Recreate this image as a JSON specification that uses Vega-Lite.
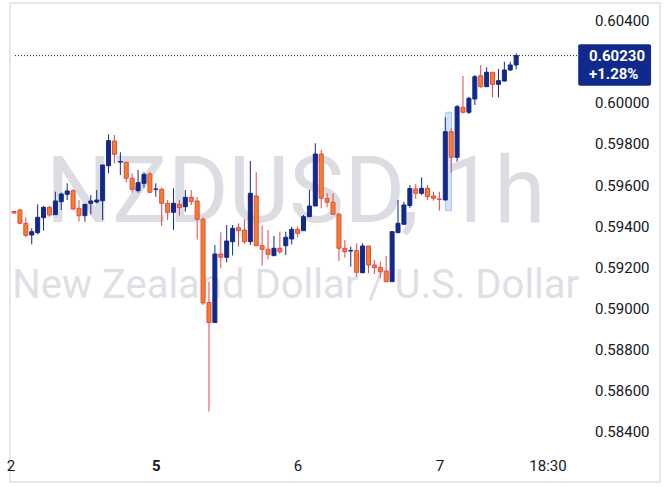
{
  "$schema": "https://vega.github.io/schema/vega-lite/v6.json",
  "width": 650,
  "height": 479,
  "autosize": {"type": "none"},
  "padding": {"left": 10, "top": 3, "right": 10, "bottom": 5},
  "background": "#ffffff",
  "config": {
    "view": {"stroke": "#e8e8ec", "strokeWidth": 2},
    "axis": {"grid": false, "domain": false, "ticks": false, "tickSize": 0, "title": null, "labelFont": "Roboto", "labelFontSize": 15, "labelColor": "#131722"}
  },
  "data": {"values": [
    {"i": -1, "o": 0.594715, "h": 0.594740, "l": 0.594618, "c": 0.594642},
    {"i": 0, "o": 0.594788, "h": 0.594823, "l": 0.594093, "c": 0.594141},
    {"i": 1, "o": 0.594141, "h": 0.594433, "l": 0.593460, "c": 0.593557},
    {"i": 2, "o": 0.593572, "h": 0.593898, "l": 0.593119, "c": 0.593732},
    {"i": 3, "o": 0.593684, "h": 0.595066, "l": 0.593606, "c": 0.594433},
    {"i": 4, "o": 0.594414, "h": 0.594983, "l": 0.593781, "c": 0.594920},
    {"i": 5, "o": 0.594920, "h": 0.594983, "l": 0.594462, "c": 0.594545},
    {"i": 6, "o": 0.594560, "h": 0.595679, "l": 0.594545, "c": 0.595226},
    {"i": 7, "o": 0.595192, "h": 0.595630, "l": 0.594788, "c": 0.595567},
    {"i": 8, "o": 0.595552, "h": 0.596088, "l": 0.595275, "c": 0.595713},
    {"i": 9, "o": 0.595728, "h": 0.595796, "l": 0.594788, "c": 0.594837},
    {"i": 10, "o": 0.594871, "h": 0.595275, "l": 0.594219, "c": 0.594511},
    {"i": 11, "o": 0.594511, "h": 0.595066, "l": 0.594219, "c": 0.595066},
    {"i": 12, "o": 0.595114, "h": 0.595518, "l": 0.594579, "c": 0.595226},
    {"i": 13, "o": 0.595178, "h": 0.595762, "l": 0.595114, "c": 0.595275},
    {"i": 14, "o": 0.595241, "h": 0.596978, "l": 0.594302, "c": 0.596978},
    {"i": 15, "o": 0.596944, "h": 0.598472, "l": 0.596574, "c": 0.598161},
    {"i": 16, "o": 0.598146, "h": 0.598438, "l": 0.597061, "c": 0.597499},
    {"i": 17, "o": 0.597124, "h": 0.597596, "l": 0.596492, "c": 0.597148},
    {"i": 18, "o": 0.597110, "h": 0.597110, "l": 0.596136, "c": 0.596331},
    {"i": 19, "o": 0.596331, "h": 0.596574, "l": 0.595630, "c": 0.595796},
    {"i": 20, "o": 0.595728, "h": 0.596735, "l": 0.595630, "c": 0.596117},
    {"i": 21, "o": 0.596088, "h": 0.596623, "l": 0.595874, "c": 0.596526},
    {"i": 22, "o": 0.596540, "h": 0.596623, "l": 0.595601, "c": 0.595650},
    {"i": 23, "o": 0.595796, "h": 0.596088, "l": 0.595436, "c": 0.595810},
    {"i": 24, "o": 0.595796, "h": 0.595874, "l": 0.594010, "c": 0.595114},
    {"i": 25, "o": 0.595114, "h": 0.595275, "l": 0.594302, "c": 0.594677},
    {"i": 26, "o": 0.594677, "h": 0.595844, "l": 0.593815, "c": 0.595114},
    {"i": 27, "o": 0.595066, "h": 0.595275, "l": 0.594511, "c": 0.594900},
    {"i": 28, "o": 0.594949, "h": 0.595762, "l": 0.594706, "c": 0.595406},
    {"i": 29, "o": 0.595406, "h": 0.595762, "l": 0.595032, "c": 0.595192},
    {"i": 30, "o": 0.595226, "h": 0.595421, "l": 0.593353, "c": 0.594336},
    {"i": 31, "o": 0.594336, "h": 0.594433, "l": 0.590166, "c": 0.590263},
    {"i": 32, "o": 0.590287, "h": 0.591300, "l": 0.584974, "c": 0.589314},
    {"i": 33, "o": 0.589314, "h": 0.593085, "l": 0.589314, "c": 0.592647},
    {"i": 34, "o": 0.592647, "h": 0.593703, "l": 0.591952, "c": 0.592487},
    {"i": 35, "o": 0.592487, "h": 0.594058, "l": 0.592243, "c": 0.593280},
    {"i": 36, "o": 0.593246, "h": 0.594058, "l": 0.592574, "c": 0.593898},
    {"i": 37, "o": 0.593927, "h": 0.594141, "l": 0.593003, "c": 0.593781},
    {"i": 38, "o": 0.593815, "h": 0.594336, "l": 0.593134, "c": 0.593246},
    {"i": 39, "o": 0.593246, "h": 0.597173, "l": 0.593085, "c": 0.595601},
    {"i": 40, "o": 0.595470, "h": 0.596623, "l": 0.593037, "c": 0.593051},
    {"i": 41, "o": 0.593051, "h": 0.594024, "l": 0.592078, "c": 0.592876},
    {"i": 42, "o": 0.592876, "h": 0.593815, "l": 0.592390, "c": 0.592633},
    {"i": 43, "o": 0.592565, "h": 0.593523, "l": 0.592565, "c": 0.592925},
    {"i": 44, "o": 0.592925, "h": 0.593732, "l": 0.592647, "c": 0.592759},
    {"i": 45, "o": 0.593051, "h": 0.593732, "l": 0.592599, "c": 0.593460},
    {"i": 46, "o": 0.593377, "h": 0.593976, "l": 0.593119, "c": 0.593849},
    {"i": 47, "o": 0.593849, "h": 0.593976, "l": 0.593460, "c": 0.593655},
    {"i": 48, "o": 0.593781, "h": 0.594545, "l": 0.593781, "c": 0.594462},
    {"i": 49, "o": 0.594462, "h": 0.595762, "l": 0.594448, "c": 0.594983},
    {"i": 50, "o": 0.594983, "h": 0.598034, "l": 0.594983, "c": 0.597513},
    {"i": 51, "o": 0.597513, "h": 0.597708, "l": 0.594871, "c": 0.595358},
    {"i": 52, "o": 0.595358, "h": 0.595601, "l": 0.594920, "c": 0.595163},
    {"i": 53, "o": 0.595163, "h": 0.595601, "l": 0.594545, "c": 0.594579},
    {"i": 54, "o": 0.594579, "h": 0.594657, "l": 0.592307, "c": 0.592925},
    {"i": 55, "o": 0.592925, "h": 0.593329, "l": 0.592467, "c": 0.592759},
    {"i": 56, "o": 0.592793, "h": 0.593003, "l": 0.592029, "c": 0.592818},
    {"i": 57, "o": 0.592808, "h": 0.593168, "l": 0.591543, "c": 0.591757},
    {"i": 58, "o": 0.591737, "h": 0.593168, "l": 0.591708, "c": 0.593037},
    {"i": 59, "o": 0.593037, "h": 0.593037, "l": 0.591708, "c": 0.592112},
    {"i": 60, "o": 0.592112, "h": 0.592355, "l": 0.591674, "c": 0.591981},
    {"i": 61, "o": 0.592000, "h": 0.592273, "l": 0.591465, "c": 0.591786},
    {"i": 62, "o": 0.591820, "h": 0.592550, "l": 0.591300, "c": 0.591300},
    {"i": 63, "o": 0.591300, "h": 0.593732, "l": 0.591300, "c": 0.593732},
    {"i": 64, "o": 0.593684, "h": 0.595275, "l": 0.593684, "c": 0.594141},
    {"i": 65, "o": 0.594093, "h": 0.595192, "l": 0.594093, "c": 0.595032},
    {"i": 66, "o": 0.595007, "h": 0.596005, "l": 0.594886, "c": 0.595835},
    {"i": 67, "o": 0.595810, "h": 0.596054, "l": 0.595324, "c": 0.595601},
    {"i": 68, "o": 0.595601, "h": 0.596380, "l": 0.595518, "c": 0.595844},
    {"i": 69, "o": 0.595844, "h": 0.596005, "l": 0.595275, "c": 0.595436},
    {"i": 70, "o": 0.595470, "h": 0.595679, "l": 0.595241, "c": 0.595358},
    {"i": 71, "o": 0.595324, "h": 0.595679, "l": 0.594754, "c": 0.595299},
    {"i": 72, "o": 0.595275, "h": 0.599299, "l": 0.595275, "c": 0.598599},
    {"i": 73, "o": 0.598599, "h": 0.598764, "l": 0.596603, "c": 0.597353},
    {"i": 74, "o": 0.597353, "h": 0.599898, "l": 0.597139, "c": 0.599815},
    {"i": 75, "o": 0.599786, "h": 0.601309, "l": 0.599494, "c": 0.599543},
    {"i": 76, "o": 0.599543, "h": 0.600302, "l": 0.599460, "c": 0.600224},
    {"i": 77, "o": 0.600190, "h": 0.601358, "l": 0.599898, "c": 0.601275},
    {"i": 78, "o": 0.601323, "h": 0.601844, "l": 0.600740, "c": 0.600788},
    {"i": 79, "o": 0.600788, "h": 0.601732, "l": 0.600788, "c": 0.601489},
    {"i": 80, "o": 0.601489, "h": 0.601489, "l": 0.600272, "c": 0.600905},
    {"i": 81, "o": 0.600905, "h": 0.601650, "l": 0.600272, "c": 0.601080},
    {"i": 82, "o": 0.601066, "h": 0.602005, "l": 0.601031, "c": 0.601601},
    {"i": 83, "o": 0.601601, "h": 0.602005, "l": 0.601552, "c": 0.601844},
    {"i": 84, "o": 0.601844, "h": 0.602413, "l": 0.601635, "c": 0.602300}
  ]},
  "layer": [
    {
      "data": {"values": [{}]},
      "mark": {"type": "text", "text": "NZDUSD, 1h", "font": "Roboto", "fontSize": 93, "color": "#dcdde3", "align": "center", "baseline": "alphabetic"},
      "encoding": {
        "x": {"datum": 46.67, "type": "quantitative", "scale": {"domain": [-0.8333, 107.5], "nice": false, "zero": false}},
        "y": {"datum": 0.594204, "type": "quantitative", "scale": {"domain": [0.581552, 0.604861], "nice": false, "zero": false}}
      }
    },
    {
      "data": {"values": [{}]},
      "mark": {"type": "text", "text": "New Zealand Dollar / U.S. Dollar", "font": "Roboto", "fontSize": 40, "color": "#dfe0e5", "align": "center", "baseline": "alphabetic"},
      "encoding": {
        "x": {"datum": 46.67, "type": "quantitative"},
        "y": {"datum": 0.590506, "type": "quantitative"}
      }
    },
    {
      "data": {"values": [{}]},
      "mark": {"type": "rect", "fill": "#d3e3f8", "stroke": "#a9c6ef", "strokeWidth": 1},
      "encoding": {
        "x": {"datum": 72.05, "type": "quantitative"},
        "x2": {"datum": 73.05},
        "y": {"datum": 0.599543, "type": "quantitative"},
        "y2": {"datum": 0.594754}
      }
    },
    {
      "mark": {"type": "rule", "strokeWidth": 1, "clip": true},
      "encoding": {
        "x": {"field": "i", "type": "quantitative", "scale": {"domain": [-0.8333, 107.5], "nice": false, "zero": false},
              "axis": {"orient": "bottom", "offset": -17, "labelPadding": 0, "labelBaseline": "middle", "labelFlush": false, "labelOverlap": false, "labelBound": false,
                       "values": [-1.6, 23, 47, 71, 89.3],
                       "labelExpr": "datum.value < 0 ? '2' : datum.value == 23 ? '5' : datum.value == 47 ? '6' : datum.value == 71 ? '7' : '18:30'",
                       "labelFontWeight": {"condition": {"test": "datum.value == 23", "value": "bold"}, "value": "normal"}}},
        "y": {"field": "l", "type": "quantitative", "scale": {"domain": [0.581552, 0.604861], "nice": false, "zero": false},
              "axis": {"orient": "right", "offset": -11, "labelPadding": 0, "labelAlign": "right", "labelBaseline": "middle", "format": ".5f",
                       "values": [0.584, 0.586, 0.588, 0.590, 0.592, 0.594, 0.596, 0.598, 0.600, 0.604]}},
        "y2": {"field": "h"},
        "color": {"condition": {"test": "datum.c >= datum.o", "value": "#13298a"}, "value": "#e4474f"}
      }
    },
    {
      "mark": {"type": "bar", "size": 4, "strokeWidth": 1, "clip": true},
      "encoding": {
        "x": {"field": "i", "type": "quantitative"},
        "y": {"field": "o", "type": "quantitative"},
        "y2": {"field": "c"},
        "fill": {"condition": {"test": "datum.c >= datum.o", "value": "#13298a"}, "value": "#f6821f"},
        "stroke": {"condition": {"test": "datum.c >= datum.o", "value": "#13298a"}, "value": "#e4474f"}
      }
    },
    {
      "data": {"values": [{}]},
      "mark": {"type": "rule", "strokeDash": [1, 2], "color": "#131722", "strokeWidth": 1},
      "encoding": {
        "x": {"datum": -0.8333, "type": "quantitative"},
        "x2": {"datum": 94.5},
        "y": {"datum": 0.6023, "type": "quantitative"}
      }
    },
    {
      "data": {"values": [{}]},
      "mark": {"type": "rect", "fill": "#0f2a8c", "cornerRadius": 2},
      "encoding": {
        "x": {"datum": 94.5, "type": "quantitative"},
        "x2": {"datum": 106.83},
        "y": {"datum": 0.602852, "type": "quantitative"},
        "y2": {"datum": 0.600837}
      }
    },
    {
      "data": {"values": [{}]},
      "mark": {"type": "text", "text": "0.60230", "font": "Roboto", "fontSize": 15, "fontWeight": "bold", "color": "#ffffff", "align": "left", "baseline": "middle"},
      "encoding": {
        "x": {"datum": 96.33, "type": "quantitative"},
        "y": {"datum": 0.602282, "type": "quantitative"}
      }
    },
    {
      "data": {"values": [{}]},
      "mark": {"type": "text", "text": "+1.28%", "font": "Roboto", "fontSize": 15, "fontWeight": "bold", "color": "#ffffff", "align": "left", "baseline": "middle"},
      "encoding": {
        "x": {"datum": 96.33, "type": "quantitative"},
        "y": {"datum": 0.601406, "type": "quantitative"}
      }
    }
  ]
}
